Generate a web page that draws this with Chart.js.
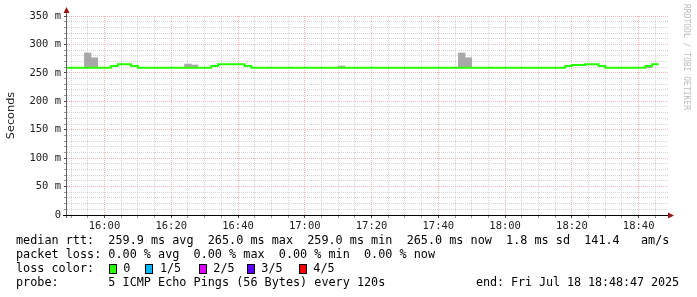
<!DOCTYPE html>
<html>
<head>
<meta charset="utf-8">
<script src="https://cdn.jsdelivr.net/npm/chart.js@4/dist/chart.umd.min.js"></script>
<style>
    body { margin: 0; background: #fff; }
    #wrap { position: relative; width: 697px; height: 297px; overflow: hidden; }
    #chart { position: absolute; left: 0; top: 0; }
    .line { position: absolute; left: 16px; height: 14px; font-family: "DejaVu Sans Mono", monospace; font-size: 11.8px; line-height: 14px; white-space: pre; color: #000; }
    .line span { position: absolute; top: 0; }
    .line .box { top: 3px; width: 6px; height: 8px; border: 1px solid #000; }
</style>
</head>
<body>
<div id="wrap">
    <canvas id="chart" width="697" height="297"></canvas>
    <div class="line" style="top:233px">median rtt:  259.9 ms avg  265.0 ms max  259.0 ms min  265.0 ms now  1.8 ms sd  141.4   am/s</div>
    <div class="line" style="top:247px">packet loss: 0.00 % avg  0.00 % max  0.00 % min  0.00 % now</div>
    <div class="line" id="losscolor" style="top:261px">loss color:</div>
    <div class="line" style="top:275px">probe:       5 ICMP Echo Pings (56 Bytes) every 120s</div>
    <div class="line" style="top:275px; left:476px; letter-spacing:-0.1px">end: Fri Jul 18 18:48:47 2025</div>
</div>
<script>
// time window
const startTime = "15:48:47";
const endTime = "18:48:47";

// axis ticks
const xTickLabels = ["16:00", "16:20", "16:40", "17:00", "17:20", "17:40", "18:00", "18:20", "18:40"];
const yTickLabels = ["0", "50 m", "100 m", "150 m", "200 m", "250 m", "300 m", "350 m"];

// median rtt (ms), each value holds from its time until the next one
const medianTimes = ["15:48", "16:02", "16:04", "16:08", "16:10", "16:32", "16:34", "16:42", "16:44",
    "18:18", "18:20", "18:24", "18:28", "18:30", "18:42", "18:44", "18:46"];
const medianValues = [259, 262, 265, 262, 259, 262, 265, 262, 259,
    262, 264, 265, 262, 259, 262, 265, 265];

// smoke (ping spread) per 2 minute step
const smokeTimes = ["15:54", "15:56", "16:24", "16:26", "17:10", "17:46", "17:48", "18:42"];
const smokeLow = [259, 259, 259, 259, 259, 259, 259, 259];
const smokeHigh = [285, 276.6, 265.6, 263.8, 262, 285, 276.6, 262];

// loss colour legend
const lossLabels = ["0", "1/5", "2/5", "3/5", "4/5"];
const lossColors = ["#26ff00", "#00b8ff", "#dd00ff", "#5e00ff", "#ff0000"];

function toMin(s) {
    let p = s.split(":").map(Number);
    return (p[0] - 16) * 60 + p[1] + (p[2] || 0) / 60;
}

// loss color legend row
const lossBoxX = [92.7, 129.3, 182.7, 230.7, 282.7];
let row = document.getElementById("losscolor");
lossLabels.forEach(function (label, i) {
    let box = document.createElement("span");
    box.className = "box";
    box.style.left = lossBoxX[i] + "px";
    box.style.background = lossColors[i];
    row.appendChild(box);
    let txt = document.createElement("span");
    txt.style.left = (lossBoxX[i] + 14.6) + "px";
    txt.textContent = label;
    row.appendChild(txt);
});

const MAJOR = "rgba(235,120,120,0.55)";
const MINOR = "rgba(185,185,185,0.6)";

const rrdDecor = {
    id: "rrdDecor",
    afterDraw(chart) {
        const ctx = chart.ctx;
        const a = chart.chartArea;
        ctx.save();
        // y axis
        ctx.fillStyle = "#606060";
        ctx.fillRect(a.left - 1, a.top - 6, 1, a.bottom - a.top + 9);
        // x axis
        ctx.fillStyle = "#000";
        ctx.fillRect(a.left - 4, a.bottom, a.right - a.left + 4, 1);
        // arrows
        ctx.fillStyle = "#9c1515";
        ctx.beginPath();
        ctx.moveTo(a.left - 0.5, a.top - 9);
        ctx.lineTo(a.left - 3.5, a.top - 3);
        ctx.lineTo(a.left + 2.5, a.top - 3);
        ctx.closePath();
        ctx.fill();
        ctx.beginPath();
        ctx.moveTo(a.right + 6, a.bottom + 0.5);
        ctx.lineTo(a.right, a.bottom - 2.5);
        ctx.lineTo(a.right, a.bottom + 3.5);
        ctx.closePath();
        ctx.fill();
        // watermark
        ctx.translate(686, 4);
        ctx.rotate(Math.PI / 2);
        ctx.fillStyle = "#bcbcbc";
        ctx.font = "8px 'DejaVu Sans Mono'";
        ctx.textBaseline = "middle";
        ctx.fillText("RRDTOOL / TOBI OETIKER", 0, 0);
        ctx.restore();
    }
};

const ctx = document.getElementById("chart");

new Chart(ctx, {
    type: "bar",
    data: {
        datasets: [{
            type: "line",
            label: "median rtt",
            data: medianTimes.map((t, i) => ({ x: toMin(t), y: medianValues[i] })),
            borderColor: "#26ff00",
            borderWidth: 2,
            pointRadius: 0,
            stepped: "before",
            fill: false,
            order: 0
        }, {
            type: "bar",
            label: "smoke",
            data: smokeTimes.map((t, i) => ({ x: toMin(t) + 1, y: [smokeLow[i], smokeHigh[i]] })),
            backgroundColor: "#a8a8a8",
            borderWidth: 0,
            barPercentage: 1,
            categoryPercentage: 1,
            order: 1
        }]
    },
    options: {
        responsive: false,
        animation: false,
        events: [],
        layout: { padding: { top: 16, right: 29, left: 0, bottom: 0 } },
        plugins: { legend: { display: false }, tooltip: { enabled: false } },
        scales: {
            x: {
                type: "linear",
                offset: false,
                min: toMin(startTime),
                max: toMin(endTime),
                afterBuildTicks: function (scale) {
                    let ticks = [];
                    for (let m = -10; m <= 165; m += 5) ticks.push({ value: m });
                    scale.ticks = ticks;
                },
                afterFit: function (scale) { scale.height = 82; },
                border: { display: false, dash: [1, 1] },
                grid: {
                    offset: false,
                    color: (c) => (c.tick && c.tick.value % 20 === 0) ? MAJOR : MINOR,
                    tickColor: (c) => (c.tick && c.tick.value % 20 === 0) ? "#444" : "#999",
                    tickLength: 3
                },
                ticks: {
                    autoSkip: false,
                    maxRotation: 0,
                    padding: 2,
                    color: "#222",
                    font: { family: "DejaVu Sans Mono", size: 10.5 },
                    callback: function (value) {
                        let lbl = xTickLabels.find((l) => Math.abs(toMin(l) - value) < 0.01);
                        return lbl || "";
                    }
                }
            },
            y: {
                min: 0,
                max: 350,
                afterFit: function (scale) { scale.width = 67; },
                border: { display: false, dash: [1, 1] },
                grid: {
                    color: (c) => (c.tick && c.tick.value % 50 === 0) ? MAJOR : MINOR,
                    tickColor: (c) => (c.tick && c.tick.value % 50 === 0) ? "#444" : "#999",
                    tickLength: 3
                },
                ticks: {
                    stepSize: 10,
                    autoSkip: false,
                    padding: 3,
                    color: "#222",
                    font: { family: "DejaVu Sans Mono", size: 10.5 },
                    callback: function (value) {
                        return value % 50 === 0 ? yTickLabels[value / 50] : "";
                    }
                },
                title: {
                    display: true,
                    text: "Seconds",
                    color: "#222",
                    font: { family: "DejaVu Sans", size: 11.3 },
                    padding: { top: 4, bottom: 0 }
                }
            }
        }
    },
    plugins: [rrdDecor]
});
</script>
</body>
</html>
